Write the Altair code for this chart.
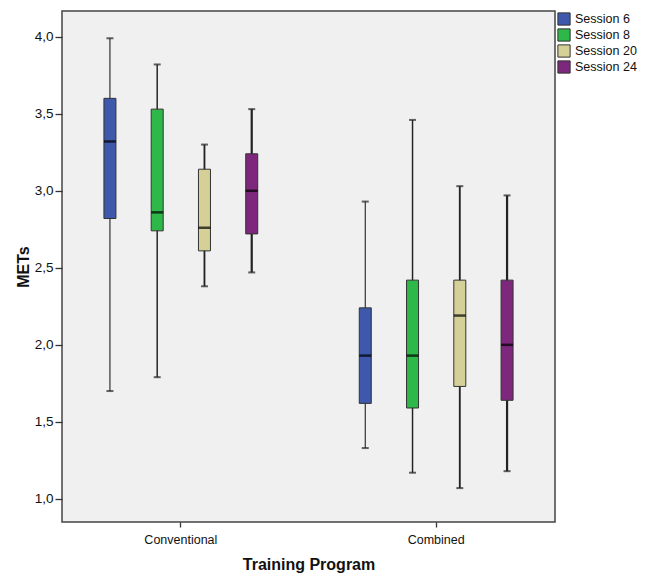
import altair as alt
import pandas as pd

programs = ["Conventional"] * 4 + ["Combined"] * 4
sessions = ["Session 6", "Session 8", "Session 20", "Session 24"] * 2
lows    = [1.70, 1.79, 2.38, 2.47, 1.33, 1.17, 1.07, 1.18]
q1s     = [2.82, 2.74, 2.61, 2.72, 1.62, 1.59, 1.73, 1.64]
medians = [3.32, 2.86, 2.76, 3.00, 1.93, 1.93, 2.19, 2.00]
q3s     = [3.60, 3.53, 3.14, 3.24, 2.24, 2.42, 2.42, 2.42]
highs   = [3.99, 3.82, 3.30, 3.53, 2.93, 3.46, 3.03, 2.97]

session_order = ["Session 6", "Session 8", "Session 20", "Session 24"]
session_colors = ["#3E59AB", "#2FB84A", "#D4D097", "#7D287C"]
whisker_widths = [1.1, 2.2, 1.6, 1.3]
program_order = ["Conventional", "Combined"]

df = pd.DataFrame({
    "program": programs, "session": sessions, "low": lows, "q1": q1s,
    "median": medians, "q3": q3s, "high": highs,
})

FONT = "Liberation Sans"

x = alt.X("program:N", sort=program_order,
          scale=alt.Scale(paddingInner=0.1, paddingOuter=0.0154),
          axis=alt.Axis(title="Training Program", labelAngle=0))
xo = alt.XOffset("session:N", sort=session_order,
                 scale=alt.Scale(paddingInner=0, paddingOuter=0.431))
yscale = alt.Scale(domain=[0.85, 4.167], nice=False, zero=False)

base = alt.Chart(df)

whisk = base.transform_calculate(wkey="datum.session").mark_rule(color="#222222").encode(
    x=x, xOffset=xo,
    y=alt.Y("low:Q", scale=yscale,
            axis=alt.Axis(title="METs", values=[1.0, 1.5, 2.0, 2.5, 3.0, 3.5, 4.0],
                          labelExpr="replace(format(datum.value, '.1f'), '.', ',')")),
    y2="high:Q",
    strokeWidth=alt.StrokeWidth("wkey:N", sort=session_order,
                                scale=alt.Scale(range=whisker_widths), legend=None),
)

cap_lo = base.mark_tick(color="#222222", size=7, thickness=2).encode(
    x=x, xOffset=xo, y=alt.Y("low:Q", scale=yscale))
cap_hi = base.mark_tick(color="#222222", size=7, thickness=2).encode(
    x=x, xOffset=xo, y=alt.Y("high:Q", scale=yscale))

box = base.mark_bar(size=12, stroke="#333333", strokeWidth=1).encode(
    x=x, xOffset=xo,
    y=alt.Y("q1:Q", scale=yscale), y2="q3:Q",
    color=alt.Color("session:N", sort=session_order,
                    scale=alt.Scale(domain=session_order, range=session_colors),
                    legend=alt.Legend(orient="none", legendX=495, legendY=1,
                                      symbolType="square", symbolSize=150,
                                      symbolStrokeColor="#333333", symbolStrokeWidth=1,
                                      labelFontSize=12.5, labelFont=FONT, labelColor="#111111",
                                      rowPadding=-2, labelOffset=4, padding=0)),
)

med = base.mark_tick(color="#000000", size=12, thickness=2.5).encode(
    x=x, xOffset=xo, y=alt.Y("median:Q", scale=yscale))

chart = alt.layer(whisk, cap_lo, cap_hi, box, med).properties(
    width=493, height=511,
    autosize=alt.AutoSizeParams(type="none"),
    padding={"left": 62, "top": 11, "right": 91, "bottom": 56},
    background="#ffffff",
).configure_view(
    fill="#F0F0F0", stroke="#444444", strokeWidth=1.5,
).configure_legend(
    title=None,
).configure_axis(
    domain=False, grid=False, tickColor="#333333", tickWidth=1.3,
    labelFont=FONT, labelFontSize=12.5, labelColor="#111111",
    titleFont=FONT, titleFontSize=16, titleFontWeight="bold", titleColor="#111111",
).configure_axisY(
    tickSize=7, labelPadding=2, titlePadding=3, labelFontSize=13.5,
).configure_axisX(
    tickSize=5, labelPadding=6, titlePadding=11,
)

chart.save("out.html", embed_options={"renderer": "svg", "actions": False})
